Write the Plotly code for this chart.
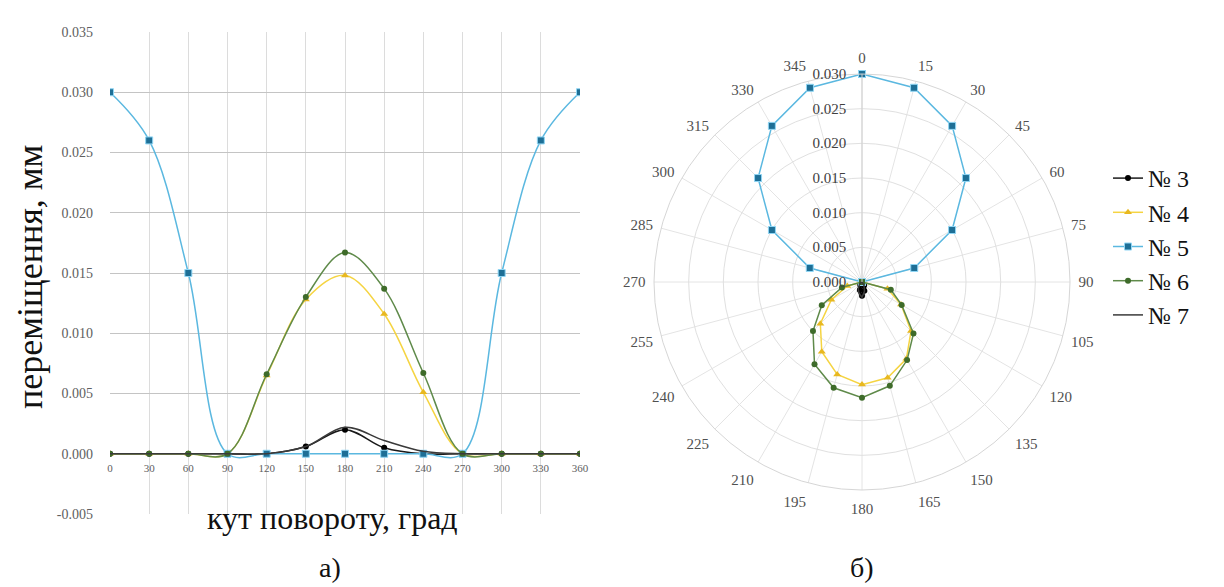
import plotly.graph_objects as go

# ---- data ----
angles = [0, 15, 30, 45, 60, 75, 90, 105, 120, 135, 150, 165, 180,
          195, 210, 225, 240, 255, 270, 285, 300, 315, 330, 345, 360]

s3 = [0, 0, 0, 0, 0, 0, 0, 0, 0, 0,
      0.0006, 0.0013, 0.0020, 0.0012, 0.0005,
      0, 0, 0, 0, 0, 0, 0, 0, 0, 0]
s4 = [0, 0, 0, 0, 0, 0, 0,
      0.0038, 0.0065, 0.0100, 0.0128, 0.0143, 0.0148, 0.0138, 0.0116, 0.0085, 0.0051, 0.0022,
      0, 0, 0, 0, 0, 0, 0]
s5 = [0.030, 0.029, 0.026, 0.0212, 0.015, 0.0078,
      0, 0, 0, 0, 0, 0, 0, 0, 0, 0, 0, 0, 0,
      0.0078, 0.015, 0.0212, 0.026, 0.029, 0.030]
s6 = [0, 0, 0, 0, 0, 0, 0,
      0.0043, 0.0066, 0.0105, 0.0130, 0.0155, 0.0167, 0.0158, 0.0137, 0.0100, 0.0067, 0.0030,
      0, 0, 0, 0, 0, 0, 0]
s7 = [0, 0, 0, 0, 0, 0, 0, 0, 0, 0,
      0.0006, 0.0014, 0.0022, 0.0017, 0.0011, 0.0005, 0.0002,
      0, 0, 0, 0, 0, 0, 0, 0]

names = ["№ 3", "№ 4", "№ 5", "№ 6", "№ 7"]
series = [s3, s4, s5, s6, s7]

x_ticks = [0, 30, 60, 90, 120, 150, 180, 210, 240, 270, 300, 330, 360]
y_ticks = [-0.005, 0, 0.005, 0.010, 0.015, 0.020, 0.025, 0.030, 0.035]
polar_ticks = list(range(0, 360, 15))
r_ticks = [0, 0.005, 0.010, 0.015, 0.020, 0.025, 0.030]

# ---- styles ----
styles = [
    dict(mode="lines+markers", line=dict(color="#1a1a1a", width=1.5),
         marker=dict(symbol="circle", size=6, color="#000000")),
    dict(mode="lines+markers", line=dict(color="#f5d442", width=1.5),
         marker=dict(symbol="triangle-up", size=7, color="#e8b820")),
    dict(mode="lines+markers", line=dict(color="#5bb8e0", width=1.5),
         marker=dict(symbol="square", size=7, color="#1e6f96",
                     line=dict(color="#8fd6f5", width=1))),
    dict(mode="lines+markers", line=dict(color="#5f8a4a", width=1.5),
         marker=dict(symbol="circle", size=6, color="#3e6b2a")),
    dict(mode="lines", line=dict(color="#3a3a3a", width=1.5), marker=dict()),
]

SERIF = "Liberation Serif, Times New Roman, serif"
W, H = 1224, 587

fig = go.Figure()

# left cartesian chart (every 30 degrees)
x_left = angles[::2]
for name, vals, st in zip(names, series, styles):
    fig.add_trace(go.Scatter(
        x=x_left, y=vals[::2], name=name, mode=st["mode"],
        line=dict(shape="spline", smoothing=1.0, **st["line"]),
        marker=st["marker"], showlegend=False, xaxis="x", yaxis="y"))

# right polar chart (every 15 degrees)
for name, vals, st in zip(names, series, styles):
    fig.add_trace(go.Scatterpolar(
        theta=angles, r=vals, name=name, mode=st["mode"],
        line=st["line"], marker=st["marker"], subplot="polar",
        showlegend=True))

# domains (pixel based)
xd = [110 / W, 580 / W]
yd = [1 - 514 / H, 1 - 32 / H]
yr = [-0.005, 0.035]
zero_pos = yd[0] + (yd[1] - yd[0]) * (0 - yr[0]) / (yr[1] - yr[0])

fig.update_layout(
    width=W, height=H,
    margin=dict(l=0, r=0, t=0, b=0, autoexpand=False),
    paper_bgcolor="white", plot_bgcolor="white",
    font=dict(family=SERIF),
    xaxis=dict(domain=xd, range=[0, 360], tickvals=x_ticks,
               ticktext=[str(v) for v in x_ticks],
               anchor="free", position=zero_pos, automargin=False,
               showgrid=True, gridcolor="#dcdcdc", gridwidth=1,
               zeroline=False, showline=False, ticks="",
               ticklabelstandoff=6,
               tickfont=dict(family=SERIF, size=11, color="#606060")),
    yaxis=dict(domain=yd, range=yr, tickvals=y_ticks,
               ticktext=[f"{v:.3f}" for v in y_ticks],
               showgrid=True, gridcolor="#c4c4c4", gridwidth=1,
               zeroline=True, zerolinecolor="#c4c4c4", zerolinewidth=1,
               showline=False, ticks="", ticklabelstandoff=16,
               automargin=False,
               tickfont=dict(family=SERIF, size=14, color="#606060"),
               anchor="x"),
    polar=dict(
        domain=dict(x=[654 / W, 1070 / W], y=[1 - 490 / H, 1 - 74 / H]),
        bgcolor="white",
        gridshape="linear",
        angularaxis=dict(direction="clockwise", rotation=90,
                         tickvals=polar_ticks,
                         ticktext=[str(v) for v in polar_ticks],
                         gridcolor="#e4e4e4", linecolor="#d6d6d6",
                         showline=True, ticks="outside", ticklen=5,
                         tickcolor="rgba(0,0,0,0)",
                         tickfont=dict(family=SERIF, size=15, color="#505050")),
        radialaxis=dict(range=[0, 0.030], tickvals=r_ticks,
                        ticktext=[f"{v:.3f}" for v in r_ticks],
                        angle=90, tickangle=90, side="counterclockwise",
                        gridcolor="#e0e0e0", linecolor="#cfcfcf",
                        showline=True, ticks="outside", ticklen=10,
                        tickcolor="rgba(0,0,0,0)",
                        tickfont=dict(family=SERIF, size=15, color="#404040")),
    ),
    legend=dict(x=1108 / W, y=1 - 156 / H, xanchor="left", yanchor="top",
                font=dict(family=SERIF, size=24, color="#111111"),
                itemwidth=30,
                bgcolor="rgba(0,0,0,0)"),
    annotations=[
        dict(text="кут повороту, град", x=332 / W, y=1 - 518 / H,
             xref="paper", yref="paper", showarrow=False,
             xanchor="center", yanchor="middle",
             font=dict(family=SERIF, size=32, color="#111111")),
        dict(text="переміщення, мм", x=30 / W, y=1 - 277 / H,
             xref="paper", yref="paper", showarrow=False, textangle=-90,
             xanchor="center", yanchor="middle",
             font=dict(family=SERIF, size=36, color="#111111")),
        dict(text="а)", x=330 / W, y=1 - 567 / H,
             xref="paper", yref="paper", showarrow=False,
             xanchor="center", yanchor="middle",
             font=dict(family=SERIF, size=28, color="#111111")),
        dict(text="б)", x=862 / W, y=1 - 567 / H,
             xref="paper", yref="paper", showarrow=False,
             xanchor="center", yanchor="middle",
             font=dict(family=SERIF, size=28, color="#111111")),
    ],
)

fig.write_html("out.html", config={"displayModeBar": False},
               post_script="document.body.style.margin='0';")
